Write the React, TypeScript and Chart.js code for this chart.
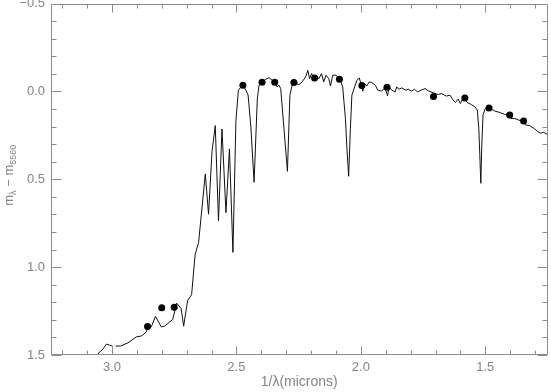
import { useEffect, useRef } from 'react';
import { Chart, registerables } from 'chart.js';

Chart.register(...registerables);

// Spectrum: 1/lambda (microns^-1) and m_lambda - m_5560 (null = gap in the trace)
const spectrumX = [
  3.064, 3.049, 3.040, 3.022, 3.009, 2.997, 2.991, 2.985, 2.965, 2.936, 2.902, 2.880, 2.862, 2.856,
  2.842, 2.825, 2.802, 2.789, 2.756, 2.740, 2.722, 2.712, 2.696, 2.680, 2.666, 2.652, 2.625, 2.612,
  2.598, 2.585, 2.572, 2.558, 2.542, 2.528, 2.514, 2.502, 2.492, 2.475, 2.462, 2.453, 2.442, 2.429,
  2.416, 2.409, 2.396, 2.382, 2.369, 2.356, 2.346, 2.336, 2.329, 2.322, 2.309, 2.295, 2.285, 2.276,
  2.266, 2.249, 2.236, 2.222, 2.213, 2.206, 2.198, 2.189, 2.180, 2.169, 2.158, 2.149, 2.140, 2.129,
  2.122, 2.113, 2.100, 2.085, 2.073, 2.062, 2.056, 2.049, 2.042, 2.036, 2.025, 2.016, 2.006, 1.998,
  1.992, 1.985, 1.976, 1.966, 1.956, 1.942, 1.932, 1.918, 1.902, 1.893, 1.886, 1.876, 1.862, 1.856,
  1.846, 1.836, 1.820, 1.809, 1.796, 1.785, 1.772, 1.758, 1.742, 1.729, 1.709, 1.689, 1.676, 1.656,
  1.642, 1.629, 1.620, 1.609, 1.600, 1.592, 1.582, 1.573, 1.556, 1.542, 1.532, 1.526, 1.522, 1.518,
  1.514, 1.509, 1.500, 1.485, 1.462, 1.442, 1.422, 1.405, 1.398, 1.382, 1.366, 1.349, 1.338, 1.322,
  1.305, 1.289, 1.278, 1.265, 1.249,
];
const spectrumY = [
  1.51, 1.481, 1.472, 1.438, 1.444, 1.449, null, 1.449, 1.449, 1.431, 1.397, 1.391, 1.368, 1.340,
  1.340, 1.280, 1.340, 1.336, 1.298, 1.205, 1.236, 1.336, 1.189, 1.157, 0.929, 0.860, 0.470, 0.699,
  0.342, 0.195, 0.737, 0.214, 0.690, 0.327, 0.916, 0.167, -0.007, -0.037, -0.007, 0.021, 0.201, 0.517,
  0.042, -0.035, -0.054, -0.069, -0.078, -0.063, -0.054, -0.025, -0.035, -0.016, 0.210, 0.455, 0.021, -0.035,
  -0.050, -0.038, -0.054, -0.082, -0.120, -0.072, -0.101, -0.076, -0.092, -0.072, -0.101, -0.054, -0.092, -0.072,
  -0.031, -0.092, -0.092, -0.072, -0.025, 0.154, 0.323, 0.483, 0.210, 0.021, -0.025, -0.063, -0.076, -0.035,
  -0.001, -0.044, -0.031, -0.054, -0.050, -0.035, -0.007, -0.001, -0.020, 0.025, -0.025, -0.007, 0.003, -0.025,
  -0.012, -0.020, -0.007, -0.012, -0.001, -0.012, 0.003, -0.007, -0.016, -0.003, 0.008, 0.018, 0.012, 0.027,
  0.021, 0.050, 0.063, 0.044, 0.069, 0.046, 0.037, 0.063, 0.075, 0.088, 0.106, 0.210, 0.360, 0.523,
  0.304, 0.134, 0.097, 0.093, 0.112, 0.120, 0.131, 0.134, 0.154, 0.154, 0.163, 0.172, 0.191, 0.195,
  0.210, 0.229, 0.238, 0.233, 0.247,
];

// Photometric points
const photX = [2.857, 2.800, 2.750, 2.474, 2.397, 2.346, 2.269, 2.186, 2.086, 1.996, 1.895, 1.708, 1.582, 1.485, 1.402, 1.346];
const photY = [1.338, 1.231, 1.229, -0.035, -0.052, -0.052, -0.050, -0.076, -0.069, -0.033, -0.024, 0.029, 0.038, 0.094, 0.134, 0.168];

const xTicks = [1.5, 2.0, 2.5, 3.0];
const yTicks = [-0.5, 0.0, 0.5, 1.0, 1.5];
const xRange = [1.25, 3.245];
const yRange = [-0.5, 1.5];
const xTitle = '1/λ(microns)';
const yTitleParts = [
  { text: 'm', sub: false },
  { text: 'λ', sub: true },
  { text: ' − ', sub: false },
  { text: 'm', sub: false },
  { text: '5560', sub: true },
];

const AXIS_COLOR = '#8c8c8c';
const TEXT_COLOR = '#858585';
const FONT = '"Liberation Sans", Arial, sans-serif';

const idlAxesPlugin = {
  id: 'idlAxes',
  afterDraw(chart: any) {
    const { ctx, chartArea: a, scales } = chart;
    const xs = scales.x;
    const ys = scales.y;
    const L = Math.round(a.left) + 0.5;
    const R = Math.round(a.right) - 0.5;
    const T = Math.round(a.top) + 0.5;
    const B = Math.round(a.bottom) - 0.5;
    ctx.save();
    ctx.strokeStyle = AXIS_COLOR;
    ctx.lineWidth = 1;
    ctx.beginPath();
    ctx.rect(L, T, R - L, B - T);
    // x ticks every 0.1, major every 0.5
    for (let i = 13; i <= 32; i++) {
      const v = i / 10;
      const major = i % 5 === 0;
      const len = major ? 8 : 4;
      const px = Math.round(xs.getPixelForValue(v)) + 0.5;
      ctx.moveTo(px, B);
      ctx.lineTo(px, B - len);
      ctx.moveTo(px, T);
      ctx.lineTo(px, T + len);
    }
    for (let i = -5; i <= 15; i++) {
      const v = i / 10;
      const major = i % 5 === 0;
      const len = major ? 10 : 5;
      const py = Math.round(ys.getPixelForValue(v)) + 0.5;
      ctx.moveTo(L, py);
      ctx.lineTo(L + len, py);
      ctx.moveTo(R, py);
      ctx.lineTo(R - len, py);
    }
    ctx.stroke();

    // y-axis title with subscripts, centred on the plot height
    const mainFont = `13px ${FONT}`;
    const subFont = `9px ${FONT}`;
    let total = 0;
    for (const p of yTitleParts) {
      ctx.font = p.sub ? subFont : mainFont;
      total += ctx.measureText(p.text).width;
    }
    const centerY = (a.top + a.bottom) / 2 - 4;
    ctx.translate(13, centerY + total / 2);
    ctx.rotate(-Math.PI / 2);
    ctx.fillStyle = TEXT_COLOR;
    ctx.textBaseline = 'alphabetic';
    ctx.textAlign = 'left';
    let cx = 0;
    for (const p of yTitleParts) {
      ctx.font = p.sub ? subFont : mainFont;
      ctx.fillText(p.text, cx, p.sub ? 3 : 0);
      cx += ctx.measureText(p.text).width;
    }
    ctx.restore();
  },
};

export default function App() {
  const canvasRef = useRef<HTMLCanvasElement | null>(null);

  useEffect(() => {
    const canvas = canvasRef.current;
    if (!canvas) return;
    const spectrum = spectrumX.map((x, i) => ({ x, y: spectrumY[i] }));
    const phot = photX.map((x, i) => ({ x, y: photY[i] }));
    const chart = new Chart(canvas, {
      type: 'scatter',
      data: {
        datasets: [
          {
            label: 'photometry',
            data: phot,
            pointRadius: 3.5,
            pointHoverRadius: 3.5,
            pointBackgroundColor: '#000',
            pointBorderWidth: 0,
            showLine: false,
          },
          {
            label: 'spectrum',
            data: spectrum as any,
            showLine: true,
            borderColor: '#111',
            borderWidth: 1,
            pointRadius: 0,
            pointHoverRadius: 0,
            tension: 0,
            spanGaps: false,
          },
        ],
      },
      options: {
        animation: false,
        responsive: false,
        devicePixelRatio: 1,
        events: [],
        layout: { padding: { top: 1, right: 1, left: 0, bottom: 0 } },
        plugins: { legend: { display: false }, tooltip: { enabled: false } },
        scales: {
          x: {
            type: 'linear',
            reverse: true,
            min: xRange[0],
            max: xRange[1],
            grid: { display: false, drawTicks: false },
            border: { display: false },
            afterBuildTicks: (s: any) => {
              s.ticks = xTicks.map((value) => ({ value }));
            },
            afterFit: (s: any) => {
              s.height = 37;
              s.paddingLeft = 0;
              s.paddingRight = 0;
            },
            ticks: {
              color: TEXT_COLOR,
              font: { family: FONT, size: 13 },
              padding: 5,
              maxRotation: 0,
              autoSkip: false,
              callback: (v: any) => Number(v).toFixed(1),
            },
            title: {
              display: true,
              text: xTitle,
              color: TEXT_COLOR,
              font: { family: FONT, size: 14 },
              padding: { top: 0, bottom: 1 },
            },
          },
          y: {
            type: 'linear',
            reverse: true,
            min: yRange[0],
            max: yRange[1],
            grid: { display: false, drawTicks: false },
            border: { display: false },
            afterBuildTicks: (s: any) => {
              s.ticks = yTicks.map((value) => ({ value }));
            },
            afterFit: (s: any) => {
              s.width = 51;
              s.paddingTop = 0;
              s.paddingBottom = 0;
            },
            ticks: {
              color: TEXT_COLOR,
              font: { family: FONT, size: 13 },
              padding: 6,
              autoSkip: false,
              callback: (v: any) => Number(v).toFixed(1).replace('-', '−'),
            },
          },
        },
      },
      plugins: [idlAxesPlugin],
    });
    return () => chart.destroy();
  }, []);

  return (
    <div style={{ position: 'absolute', left: 0, top: 0, width: 551, height: 392, background: '#fff' }}>
      <canvas ref={canvasRef} width={551} height={392} />
    </div>
  );
}
